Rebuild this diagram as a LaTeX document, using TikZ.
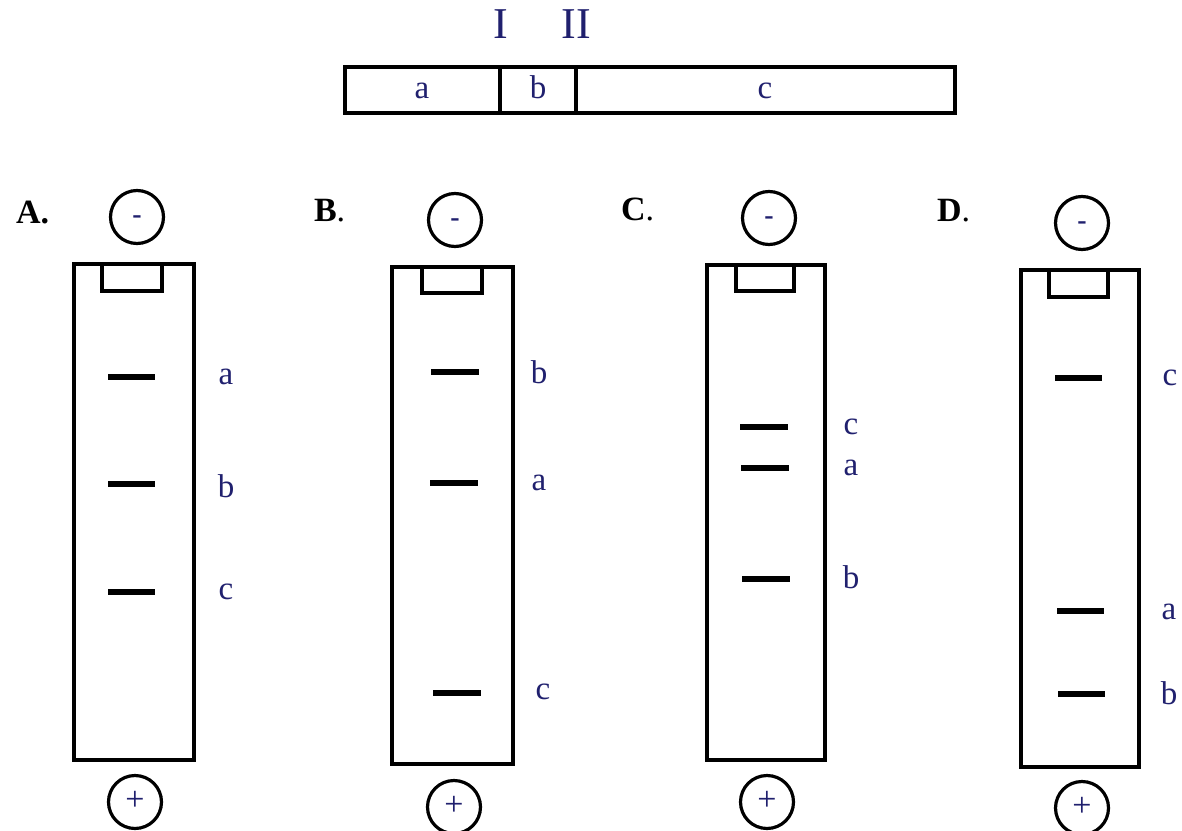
\documentclass[tikz,border=0pt]{standalone}
\usepackage{fontspec}
\setmainfont{Liberation Serif}
\usetikzlibrary{positioning}

\definecolor{ink}{RGB}{32,32,110}

\tikzset{
    gel/.style={draw, line width=2pt},
    well/.style={draw, line width=1.6pt},
    band/.style={line width=3.4pt},
    pole/.style={circle, draw, line width=1.6pt, minimum size=26.5pt, inner sep=0pt,
        text=ink, text depth=0pt},
    minus/.style={pole, text height=6.3pt, font=\fontsize{14}{14}\selectfont\bfseries},
    plus/.style={pole, text height=8.6pt, font=\fontsize{17}{17}\selectfont},
    lane/.style={text=ink, font=\fontsize{16.5}{16.5}\selectfont},
    piece/.style={lane, anchor=base},
    choice/.style={anchor=base west, font=\fontsize{17}{17}\selectfont},
    cut/.style={text=ink, font=\fontsize{22}{22}\selectfont},
}

\begin{document}
\begin{tikzpicture}[x=0.5pt, y=-0.5pt]
    \useasboundingbox (0,0) rectangle (1182,830);

    % the fragment and its two cut sites
    \draw[line width=1.6pt] (345,67) rectangle (955,113);
    \draw[line width=1.6pt] (500,67) -- (500,113);
    \draw[line width=1.6pt] (576,67) -- (576,113);
    \node(fa) [piece] at (422,98) {a};
    \node(fb) [piece] at (538,98) {b};
    \node(fc) [piece] at (765,98) {c};
    \node(s1) [cut] at (501,24) {I};
    \node(s2) [cut] at (576,24) {II};

    % A
    \node(lA) [choice] at (9,223) {\textbf{A.}};
    \node(mA) [minus] at (137,217) {-};
    \draw[gel] (74,264) rectangle (194,760);
    \draw[well] (102,264) -- (102,291) -- (162,291) -- (162,264);
    \draw[band] (108,377) -- (155,377);
    \draw[band] (108,484) -- (155,484);
    \draw[band] (108,592) -- (155,592);
    \node(Aa) [lane] at (226,377) {a};
    \node(Ab) [lane] at (226,486) {b};
    \node(Ac) [lane] at (226,592) {c};
    \node(pA) [plus] at (135,802) {+};

    % B
    \node(lB) [choice] at (307,221) {\textbf{B}.};
    \node(mB) [minus] at (455,220) {-};
    \draw[gel] (392,267) rectangle (513,764);
    \draw[well] (422,267) -- (422,293) -- (482,293) -- (482,267);
    \draw[band] (431,372) -- (479,372);
    \draw[band] (430,483) -- (478,483);
    \draw[band] (433,693) -- (481,693);
    \node(Bb) [lane] at (539,372) {b};
    \node(Ba) [lane] at (539,483) {a};
    \node(Bc) [lane] at (543,692) {c};
    \node(pB) [plus] at (454,807) {+};

    % C
    \node(lC) [choice] at (614,220) {\textbf{C}.};
    \node(mC) [minus] at (769,218) {-};
    \draw[gel] (707,265) rectangle (825,760);
    \draw[well] (736,265) -- (736,291) -- (794,291) -- (794,265);
    \draw[band] (740,427) -- (788,427);
    \draw[band] (741,468) -- (789,468);
    \draw[band] (742,579) -- (790,579);
    \node(Cc) [lane] at (851,427) {c};
    \node(Ca) [lane] at (851,468) {a};
    \node(Cb) [lane] at (851,577) {b};
    \node(pC) [plus] at (767,802) {+};

    % D
    \node(lD) [choice] at (930,221) {\textbf{D}.};
    \node(mD) [minus] at (1082,223) {-};
    \draw[gel] (1021,270) rectangle (1139,767);
    \draw[well] (1049,270) -- (1049,297) -- (1108,297) -- (1108,270);
    \draw[band] (1055,378) -- (1102,378);
    \draw[band] (1057,611) -- (1104,611);
    \draw[band] (1058,694) -- (1105,694);
    \node(Dc) [lane] at (1170,378) {c};
    \node(Da) [lane] at (1169,612) {a};
    \node(Db) [lane] at (1169,693) {b};
    \node(pD) [plus] at (1082,808) {+};
\end{tikzpicture}
\end{document}
